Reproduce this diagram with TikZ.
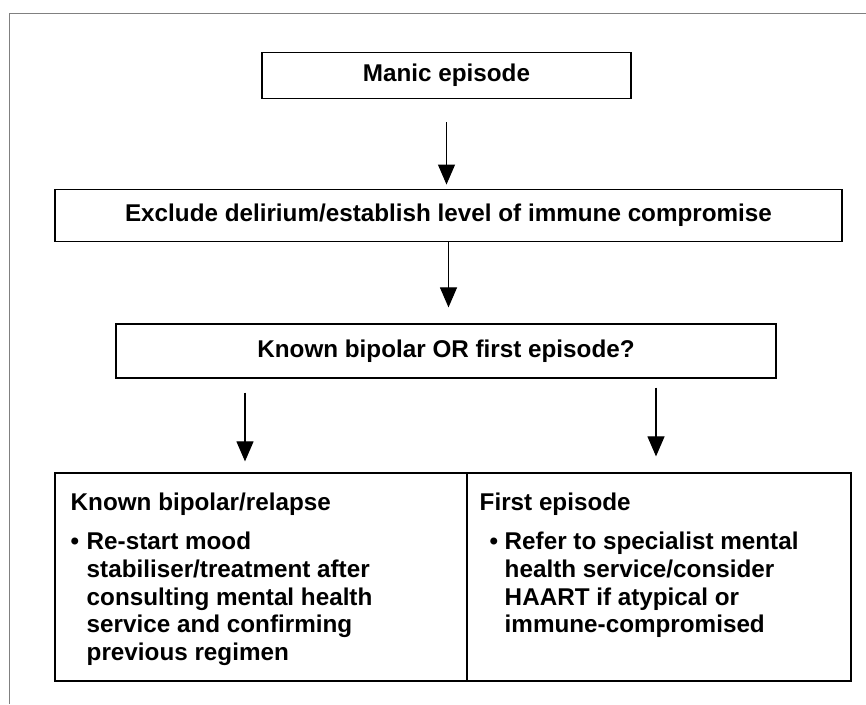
\documentclass[tikz,border=0pt]{standalone}
\usepackage{fontspec}
\setmainfont{Liberation Sans}
\usetikzlibrary{arrows.meta}
\tikzset {>={Triangle[length=0.4cm,width=0.34cm]}}
\tikzset{box/.style={draw,line width=0.7pt,inner sep=0pt,font=\bfseries\fontsize{13.8}{15.9}\selectfont},
  cell/.style={inner sep=0pt,align=left,font=\bfseries\fontsize{13.8}{15.9}\selectfont},
  flow/.style={->,line width=0.65pt}}
\newcommand{\bul}{\makebox[0.32cm][l]{\textbullet}}
\newcommand{\nobul}{\hspace*{0.32cm}}

\begin{document}
\begin{tikzpicture}
\useasboundingbox (0,0) rectangle (17.32,-14.08);
\draw[black!50,line width=0.6pt] (17.32,-0.266) -| (0.194,-14.08);

\node[box,minimum width=7.38cm,minimum height=0.912cm] (manic) at (8.93,-1.51) {Manic episode};
\node[box,minimum width=15.74cm,minimum height=1.054cm] (exclude) at (8.97,-4.31) {Exclude delirium/establish level of immune compromise};
\node[box,minimum width=13.2cm,minimum height=1.08cm] (known) at (8.92,-7.02) {Known bipolar OR first episode?};
\node[box,minimum width=8.24cm,minimum height=4.16cm] (relapse) at (5.22,-11.54) {};
\node[box,minimum width=7.68cm,minimum height=4.16cm] (first) at (13.18,-11.54) {};

\node[cell,anchor=north west] (relapsetext) at ([xshift=0.32cm,yshift=-0.4cm]relapse.north west)
  {Known bipolar/relapse\\[6.2pt]
   \bul Re-start mood\\
   \nobul stabiliser/treatment after\\
   \nobul consulting mental health\\
   \nobul service and confirming\\
   \nobul previous regimen};
\node[cell,anchor=north west] (firsttext) at ([xshift=0.26cm,yshift=-0.4cm]first.north west)
  {First episode\\[6.2pt]
   \hspace*{0.2cm}\makebox[0.3cm][l]{\textbullet}Refer to specialist mental\\
   \hspace*{0.5cm}health service/consider\\
   \hspace*{0.5cm}HAART if atypical or\\
   \hspace*{0.5cm}immune-compromised};

\draw[flow,shorten <=0.47cm,shorten >=0.08cm] (manic.south) -- (manic.south |- exclude.north);
\draw[flow,shorten >=0.32cm] (exclude.south) -- (exclude.south |- known.north);
\draw[flow,shorten <=0.28cm,shorten >=0.22cm] ([xshift=-4.02cm]known.south) -- ([xshift=-4.02cm]known.south |- relapse.north);
\draw[flow,shorten <=0.18cm,shorten >=0.32cm] ([xshift=4.2cm]known.south) -- ([xshift=4.2cm]known.south |- first.north);
\end{tikzpicture}
\end{document}
